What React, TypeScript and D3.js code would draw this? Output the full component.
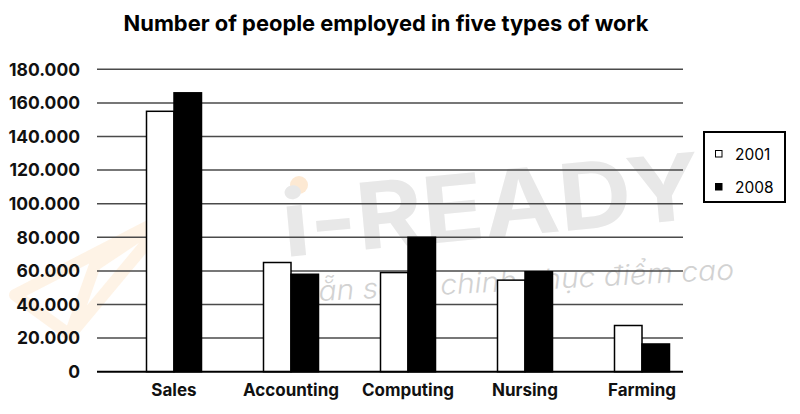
import { useEffect, useRef } from 'react';
import * as d3 from 'd3';

const categories = ['Sales', 'Accounting', 'Computing', 'Nursing', 'Farming'];
const years = ['2001', '2008'];
const values2001 = [155000, 65000, 59000, 54500, 27500];
const values2008 = [166000, 58000, 80000, 59500, 16500];
const yTicks = [0, 20000, 40000, 60000, 80000, 100000, 120000, 140000, 160000, 180000];

const W = 800;
const H = 414;
const FONT = 'Inter, "Noto Sans", sans-serif';

export default function App() {
  const ref = useRef<SVGSVGElement>(null);

  useEffect(() => {
    if (!ref.current) return;
    const svg = d3.select(ref.current);
    svg.selectAll('*').remove();

    const gridLeft = 97;
    const gridRight = 683;
    const y = d3.scaleLinear().domain([0, 180000]).range([371.7, 69.3]);
    const x = d3.scalePoint<string>().domain(categories).range([174, 642]);
    const xSub = d3.scaleBand<string>().domain(years).range([-27.5, 27.5]);
    const fmt = d3.formatLocale({ decimal: ',', thousands: '.', grouping: [3], currency: ['', ''] }).format(',');

    svg.append('rect').attr('width', W).attr('height', H).attr('fill', '#fff');

    // watermark (behind the chart)
    const wm = svg.append('g').attr('pointer-events', 'none');
    wm.append('path')
      .attr('d', 'M15,295 L170,215 L70,335 Z M70,335 L95,265 L170,215')
      .attr('fill', 'none')
      .attr('stroke', '#fdeedb')
      .attr('stroke-width', 12)
      .attr('stroke-linejoin', 'round')
      .attr('opacity', 0.7);
    wm.append('circle').attr('cx', 299).attr('cy', 185).attr('r', 9).attr('fill', '#fde9d3');
    wm.append('text')
      .attr('x', 285)
      .attr('y', 257)
      .attr('transform', 'rotate(-5.3 285 257)')
      .attr('font-family', FONT)
      .attr('font-weight', 700)
      .attr('font-size', 92)
      .attr('fill', '#e8e8e8')
      .attr('textLength', 420)
      .attr('lengthAdjust', 'spacingAndGlyphs')
      .text('i-READY');
    wm.append('text')
      .attr('x', 300)
      .attr('y', 302)
      .attr('transform', 'rotate(-3 300 302)')
      .attr('font-family', FONT)
      .attr('font-weight', 300)
      .attr('font-style', 'italic')
      .attr('font-size', 28)
      .attr('fill', '#d2d2d2')
      .attr('textLength', 435)
      .attr('lengthAdjust', 'spacingAndGlyphs')
      .text('Sẵn sàng chinh phục điểm cao');

    // gridlines
    svg.append('g')
      .selectAll('line')
      .data(yTicks.filter((d) => d > 0))
      .join('line')
      .attr('x1', gridLeft)
      .attr('x2', gridRight)
      .attr('y1', (d) => y(d))
      .attr('y2', (d) => y(d))
      .attr('stroke', '#4a4a4a')
      .attr('stroke-width', 1.5);

    // y labels
    svg.append('g')
      .selectAll('text')
      .data(yTicks)
      .join('text')
      .attr('x', 80)
      .attr('y', (d) => y(d))
      .attr('dy', '0.36em')
      .attr('text-anchor', 'end')
      .attr('font-family', FONT)
      .attr('font-weight', 700)
      .attr('font-size', 17.5)
      .attr('fill', '#111')
      .text((d) => (d === 0 ? '0' : fmt(d)));

    // bars
    const rows = categories.map((c, i) => ({ cat: c, vals: [values2001[i], values2008[i]] }));
    const groups = svg.append('g')
      .selectAll('g')
      .data(rows)
      .join('g')
      .attr('transform', (d) => `translate(${x(d.cat)},0)`);
    groups.selectAll('rect')
      .data((d) => d.vals.map((v, j) => ({ year: years[j], v })))
      .join('rect')
      .attr('x', (d) => xSub(d.year)!)
      .attr('y', (d) => y(d.v))
      .attr('width', xSub.bandwidth())
      .attr('height', (d) => y(0) - y(d.v))
      .attr('fill', (d) => (d.year === '2001' ? '#fff' : '#000'))
      .attr('stroke', '#000')
      .attr('stroke-width', 1.5);

    // baseline
    svg.append('line')
      .attr('x1', gridLeft)
      .attr('x2', gridRight)
      .attr('y1', y(0))
      .attr('y2', y(0))
      .attr('stroke', '#000')
      .attr('stroke-width', 2);

    // x labels
    svg.append('g')
      .selectAll('text')
      .data(categories)
      .join('text')
      .attr('x', (d) => x(d)!)
      .attr('y', 396)
      .attr('text-anchor', 'middle')
      .attr('font-family', FONT)
      .attr('font-weight', 700)
      .attr('font-size', 17)
      .attr('fill', '#111')
      .text((d) => d);

    // title
    svg.append('text')
      .attr('x', 386)
      .attr('y', 31)
      .attr('text-anchor', 'middle')
      .attr('font-family', FONT)
      .attr('font-weight', 700)
      .attr('font-size', 21.9)
      .attr('fill', '#000')
      .text('Number of people employed in five types of work');

    // legend
    const lg = svg.append('g').attr('transform', 'translate(704,132)');
    lg.append('rect').attr('width', 81).attr('height', 70).attr('fill', '#fff').attr('stroke', '#000').attr('stroke-width', 2);
    const items = lg.selectAll('g').data(years).join('g').attr('transform', (_d, i) => `translate(0,${i * 33})`);
    items.append('rect')
      .attr('x', 11.5)
      .attr('y', 18.5)
      .attr('width', 6.5)
      .attr('height', 6.5)
      .attr('fill', (d) => (d === '2001' ? '#fff' : '#000'))
      .attr('stroke', '#000')
      .attr('stroke-width', 1);
    items.append('text')
      .attr('x', 31)
      .attr('y', 28)
      .attr('font-family', FONT)
      .attr('font-size', 15.5)
      .attr('fill', '#000')
      .text((d) => d);
  }, []);

  return <svg ref={ref} width={W} height={H} style={{ position: 'absolute', left: 0, top: 0 }} />;
}
